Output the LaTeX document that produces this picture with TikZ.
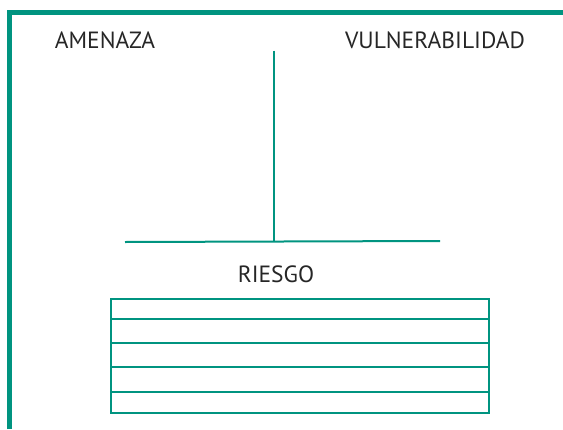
\documentclass[tikz,border=0pt]{standalone}
\usepackage{fontspec}
\setmainfont{PT Sans}
\definecolor{teal1}{RGB}{0,148,128}
\begin{document}
\begin{tikzpicture}[x=1pt,y=-1pt,
  frame/.style={draw=teal1,line width=5pt},
  conn/.style={draw=teal1,line width=2pt},
  tbl/.style={draw=teal1,line width=2pt},
  lbl/.style={font=\fontsize{23.5}{26}\selectfont,text=black!85,inner sep=0pt}]
\useasboundingbox (0,0) rectangle (563,429);
\draw[frame] (9,429) -- (9,12.4) -- (563,12.4);
\node[lbl,anchor=base] (amenaza) at (105,48.3) {AMENAZA};
\node[lbl,anchor=base] (vuln) at (435,48.3) {VULNERABILIDAD};
\node[lbl,anchor=base] (riesgo) at (276,282.7) {RIESGO};
\coordinate (top) at (274,50.6);
\coordinate (mid) at (274,241.5);
\coordinate (hl) at (125,242);
\coordinate (hr) at (440,241);
\draw[conn] (top) -- (mid);
\draw[conn] (hl) -- (hr);
\draw[tbl] (111,299) rectangle (489,413);
\foreach \y in {319,343,367,392} \draw[tbl] (111,\y) -- (489,\y);
\end{tikzpicture}
\end{document}
